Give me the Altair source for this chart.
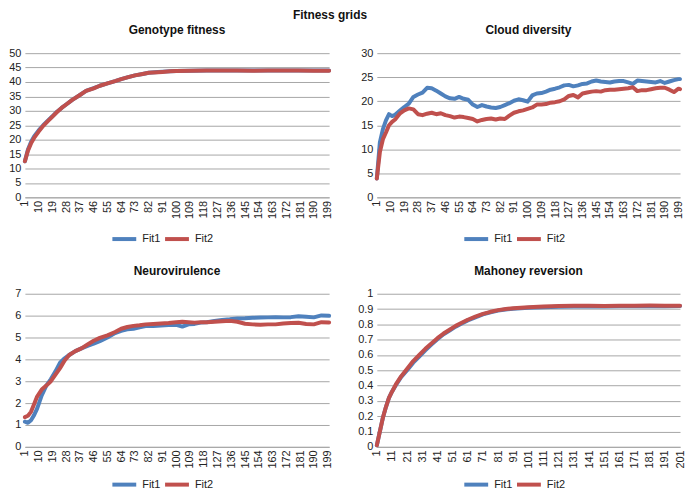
import altair as alt
import pandas as pd

# ---------------- data ----------------
SERIES = ["Fit1", "Fit2"]
BLUE = "#4f81bd"
RED = "#c0504d"

# Genotype fitness
GEN_G = [1, 3, 5, 7, 10, 13, 16, 19, 22, 25, 28, 32, 37, 41, 46, 50, 55, 60, 64, 68,
         73, 78, 82, 88, 91, 96, 100, 110, 120, 130, 140, 150, 160, 170, 180, 190, 200]
FIT1_G = [12.5, 16.6, 19.2, 21.1, 23.2, 25.0, 26.6, 28.1, 29.7, 31.0, 32.2, 33.8, 35.5, 36.9, 37.9,
          38.7, 39.5, 40.3, 41.0, 41.6, 42.3, 42.8, 43.2, 43.5, 43.6, 43.7, 43.8, 43.9, 44.0, 44.0,
          44.0, 44.0, 44.0, 44.0, 44.0, 44.0, 44.0]
FIT2_G = [12.5, 16.2, 18.7, 20.6, 22.8, 24.8, 26.4, 28.0, 29.6, 31.0, 32.2, 33.8, 35.5, 36.9, 37.8,
          38.7, 39.5, 40.3, 41.0, 41.6, 42.3, 42.8, 43.2, 43.4, 43.5, 43.7, 43.8, 43.9, 44.0, 44.0,
          44.0, 43.9, 44.0, 44.0, 44.0, 43.9, 43.9]

# Cloud diversity
GEN_C = [1, 3, 5, 7, 9, 11, 13, 16, 19, 22, 25, 28, 31, 34, 37, 40, 43, 46, 49, 52,
         55, 58, 61, 64, 67, 70, 73, 76, 79, 82, 85, 88, 91, 94, 97, 100, 103, 106, 109, 112,
         115, 118, 121, 124, 127, 130, 133, 136, 139, 142, 145, 148, 151, 154, 157, 160, 163, 166, 169, 172,
         175, 178, 181, 184, 187, 190, 193, 196, 199, 200]
FIT1_C = [3.9, 11.4, 14.2, 16.0, 17.3, 16.9, 17.2, 18.0, 18.8, 19.5, 20.9, 21.4, 21.8, 22.8, 22.7, 22.2, 21.6, 21.0, 20.6, 20.5,
          20.9, 20.5, 20.3, 19.3, 18.8, 19.2, 18.9, 18.7, 18.6, 18.8, 19.2, 19.6, 20.1, 20.4, 20.2, 19.9, 21.2, 21.6, 21.7, 22.0,
          22.4, 22.6, 22.9, 23.3, 23.4, 23.1, 23.3, 23.6, 23.7, 24.1, 24.3, 24.1, 24.0, 23.9, 24.1, 24.2, 24.2, 23.9, 23.6, 24.3,
          24.2, 24.1, 24.0, 23.9, 24.2, 23.8, 24.1, 24.4, 24.6, 24.6]
FIT2_C = [3.9, 9.4, 12.1, 13.5, 15.0, 15.7, 16.2, 17.4, 18.1, 18.5, 18.3, 17.3, 17.1, 17.4, 17.6, 17.3, 17.5, 17.1, 16.9, 16.6,
          16.8, 16.7, 16.5, 16.3, 15.8, 16.1, 16.3, 16.4, 16.2, 16.4, 16.3, 17.0, 17.6, 17.9, 18.1, 18.4, 18.7, 19.3, 19.3, 19.4,
          19.7, 19.8, 20.0, 20.4, 21.1, 21.3, 20.8, 21.6, 21.8, 22.0, 22.1, 22.0, 22.3, 22.4, 22.4, 22.5, 22.6, 22.7, 22.9, 22.1,
          22.3, 22.3, 22.5, 22.7, 22.8, 22.8, 22.4, 21.9, 22.6, 22.5]

# Neurovirulence
GEN_N = [1, 3, 5, 7, 9, 12, 15, 18, 21, 24, 27, 30, 34, 38, 42, 46, 50, 55, 60, 64,
         68, 72, 76, 80, 85, 90, 95, 100, 104, 108, 112, 116, 120, 125, 130, 135, 140, 145, 150, 155,
         160, 165, 170, 175, 180, 185, 190, 195, 200]
FIT1_N = [1.15, 1.10, 1.22, 1.45, 1.75, 2.35, 2.80, 3.10, 3.45, 3.85, 4.05, 4.20, 4.38, 4.50, 4.62, 4.72, 4.83, 5.00, 5.20, 5.30,
          5.37, 5.40, 5.47, 5.52, 5.53, 5.55, 5.57, 5.58, 5.50, 5.60, 5.62, 5.68, 5.70, 5.75, 5.80, 5.83, 5.87, 5.88, 5.90, 5.91,
          5.92, 5.93, 5.92, 5.93, 5.97, 5.95, 5.92, 6.01, 5.99]
FIT2_N = [1.36, 1.42, 1.60, 1.95, 2.30, 2.62, 2.80, 3.00, 3.30, 3.60, 3.95, 4.20, 4.38, 4.50, 4.68, 4.85, 4.98, 5.10, 5.25, 5.40,
          5.48, 5.53, 5.56, 5.60, 5.62, 5.64, 5.66, 5.70, 5.72, 5.70, 5.68, 5.70, 5.70, 5.72, 5.74, 5.76, 5.72, 5.63, 5.60, 5.58,
          5.60, 5.60, 5.64, 5.66, 5.67, 5.62, 5.60, 5.70, 5.69]

# Mahoney reversion
GEN_M = [1, 3, 5, 7, 9, 11, 14, 17, 21, 25, 29, 33, 37, 41, 45, 49, 53, 57, 61, 66,
         71, 76, 81, 86, 91, 96, 101, 111, 121, 131, 141, 151, 161, 171, 181, 191, 201]
FIT1_M = [0.01, 0.10, 0.19, 0.26, 0.32, 0.36, 0.41, 0.455, 0.50, 0.55, 0.59, 0.63, 0.668, 0.703, 0.735, 0.76, 0.785, 0.806, 0.826, 0.846,
          0.865, 0.879, 0.89, 0.897, 0.902, 0.905, 0.908, 0.912, 0.915, 0.916, 0.917, 0.917, 0.918, 0.918, 0.919, 0.919, 0.92]
FIT2_M = [0.01, 0.10, 0.19, 0.26, 0.32, 0.36, 0.415, 0.46, 0.51, 0.56, 0.60, 0.64, 0.675, 0.71, 0.74, 0.765, 0.79, 0.81, 0.83, 0.85,
          0.868, 0.882, 0.893, 0.90, 0.905, 0.909, 0.912, 0.917, 0.92, 0.921, 0.921, 0.92, 0.921, 0.922, 0.923, 0.922, 0.922]

X_TICKS_200 = list(range(1, 200, 9))       # 1, 10, 19, ... 199
X_TICKS_201 = list(range(1, 202, 10))      # 1, 11, 21, ... 201
Y_TICKS_G = list(range(0, 51, 5))
Y_TICKS_C = list(range(0, 31, 5))
Y_TICKS_N = list(range(0, 8))
Y_TICKS_M = [i / 10 for i in range(0, 11)]

# ---------------- chart ----------------
FONT = "Liberation Sans"
GRID = "#a6a6a6"


def make_df(gens, fit1, fit2):
    rows = [{"gen": g, "value": v, "series": SERIES[0]} for g, v in zip(gens, fit1)]
    rows += [{"gen": g, "value": v, "series": SERIES[1]} for g, v in zip(gens, fit2)]
    return pd.DataFrame(rows)


def panel(df, title, ymax, yticks, xmax, xticks, width, height, ext, legend_x, legend_y):
    color = alt.Color(
        "series:N",
        scale=alt.Scale(domain=SERIES, range=[BLUE, RED]),
        legend=alt.Legend(
            title=None, orient="none", legendX=legend_x, legendY=legend_y,
            direction="horizontal", symbolType="stroke", symbolStrokeWidth=4,
            symbolSize=576, labelFontSize=11, labelFont=FONT, labelColor="#222222",
            labelOffset=4, columnPadding=-4, padding=0,
        ),
    )
    return alt.Chart(df).mark_line(strokeWidth=4, strokeJoin="round", strokeCap="round").encode(
        x=alt.X("gen:Q", scale=alt.Scale(domain=[1, xmax], nice=False, zero=False),
                axis=alt.Axis(values=xticks, labelAngle=270, title=None, grid=False, ticks=False,
                              labelFlush=False, labelOverlap=False, domainColor=GRID,
                              labelPadding=3)),
        y=alt.Y("value:Q", scale=alt.Scale(domain=[0, ymax], nice=False),
                axis=alt.Axis(values=yticks, title=None, domain=False, ticks=False, gridColor=GRID,
                              labelPadding=4, minExtent=ext, maxExtent=ext, format="~g",
                              labelOverlap=False)),
        color=color,
    ).properties(
        width=width, height=height,
        title=alt.TitleParams(title, fontSize=12, fontWeight="bold", font=FONT,
                              anchor="middle", offset=10, color="#111111"),
    )


p1 = panel(make_df(GEN_G, FIT1_G, FIT2_G), "Genotype fitness", 50, Y_TICKS_G, 200, X_TICKS_200, 306, 145, 16, 86, 173)
p2 = panel(make_df(GEN_C, FIT1_C, FIT2_C), "Cloud diversity", 30, Y_TICKS_C, 200, X_TICKS_200, 305, 145, 19.5, 86, 173)
p3 = panel(make_df(GEN_N, FIT1_N, FIT2_N), "Neurovirulence", 7, Y_TICKS_N, 200, X_TICKS_200, 306, 154, 16, 86, 178)
p4 = panel(make_df(GEN_M, FIT1_M, FIT2_M), "Mahoney reversion", 1, Y_TICKS_M, 201, X_TICKS_201, 305, 154, 19.5, 86, 178)

row1 = alt.hconcat(p1, p2, spacing=24).resolve_scale(color="independent").resolve_legend(color="independent")
row2 = alt.hconcat(p3, p4, spacing=24).resolve_scale(color="independent").resolve_legend(color="independent")

chart = alt.vconcat(row1, row2, spacing=18).resolve_scale(color="independent").resolve_legend(
    color="independent"
).properties(
    padding=0,
    title=alt.TitleParams("Fitness grids", fontSize=12, fontWeight="bold", font=FONT,
                          anchor="middle", dx=-17, offset=2, color="#111111"),
).configure_view(stroke=None).configure_axis(
    labelFont=FONT, labelFontSize=11, labelColor="#222222"
)

chart.save("out.html", embed_options={"renderer": "svg", "actions": False})
